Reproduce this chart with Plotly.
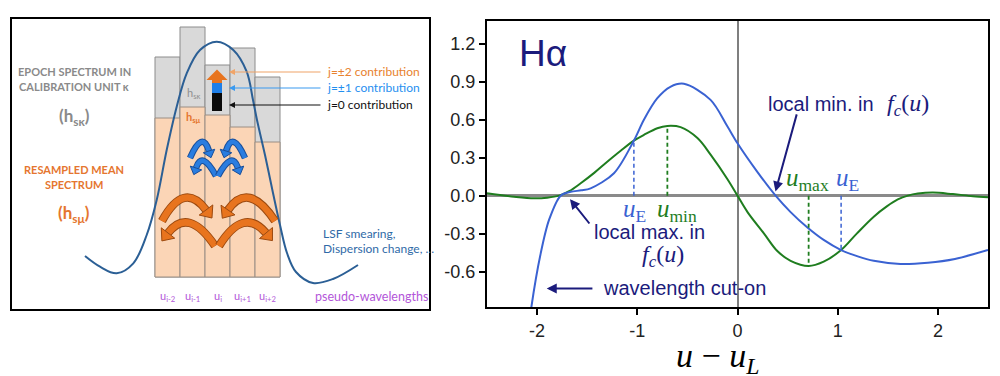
import math
import plotly.graph_objects as go

# ---------------- right panel data ----------------
u_green = [-2.5, -2.23, -2.03, -1.90, -1.78, -1.68, -1.565, -1.43, -1.30, -1.166, -1.034, -0.934,
           -0.80, -0.70, -0.568, -0.40, -0.265, -0.10, 0.0, 0.10, 0.265, 0.40, 0.53, 0.71, 0.86,
           1.034, 1.19, 1.36, 1.49, 1.60, 1.70, 1.80, 1.95, 2.15, 2.35, 2.5]
f_green = [0.019, -0.008, -0.021, -0.016, 0.0, 0.035, 0.098, 0.18, 0.268, 0.355, 0.435, 0.48,
           0.533, 0.551, 0.541, 0.455, 0.32, 0.13, 0.0, -0.13, -0.30, -0.44, -0.515, -0.556, -0.522,
           -0.43, -0.30, -0.166, -0.085, -0.03, 0.0, 0.016, 0.024, 0.012, -0.004, -0.012]
u_blue = [-2.075, -2.057, -1.964, -1.88, -1.765, -1.665, -1.56, -1.466, -1.233, -1.034, -0.934,
          -0.80, -0.67, -0.535, -0.269, -0.10, 0.0, 0.196, 0.38, 0.53, 0.695, 0.86, 1.034, 1.2,
          1.36, 1.625, 1.9, 2.17, 2.5]
f_blue = [-1.0, -0.88, -0.456, -0.19, 0.0, 0.03, 0.042, 0.058, 0.177, 0.435, 0.60,
          0.77, 0.86, 0.884, 0.757, 0.546, 0.414, 0.19, 0.0, -0.13, -0.25, -0.35, -0.43, -0.48,
          -0.515, -0.54, -0.53, -0.50, -0.43]
uE_x = [-1.034, 1.034]
uE_y = [0.435, -0.43]
uext_x = [-0.70, 0.71]
uext_y = [0.551, -0.556]
x_ticks = [-2, -1, 0, 1, 2]
y_ticks = [-0.6, -0.3, 0.0, 0.3, 0.6, 0.9, 1.2]

# ---------------- left panel data (schematic) ----------------
bins = ["u<sub>i-2</sub>", "u<sub>i-1</sub>", "u<sub>i</sub>", "u<sub>i+1</sub>", "u<sub>i+2</sub>"]
epoch_h = [220, 250, 212, 229, 200]
resampled_h = [159, 170, 162, 150, 135]
lsf_x = [85, 100, 116.7, 133.3, 146.7, 156.7, 166.7, 176.7, 186.7, 200, 216.7, 233.3, 246.7,
         253, 257, 265, 273, 280, 287, 296, 313, 333, 358]
lsf_y = [256, 266.7, 273.3, 263.3, 235, 200, 150, 106.7, 73.3, 50, 41.7, 50, 71.7,
         100, 120, 155, 193, 225, 253, 272, 283, 279, 265]

W, H = 1000, 376
OX, OY = 8, 8   # page body margin offset


def fx(px):
    return (px - OX) / W


def fy(py):
    return 1 - (py - OY) / H


BLUE = "#3a62d2"
GREEN = "#1f7d1f"
NAVY = "#1b1b7c"
SERIF = "Liberation Serif, Times New Roman, serif"
SANS = "Liberation Sans, Arial, sans-serif"
CAL = "Lato, Open Sans, sans-serif"

fig = go.Figure()

# ---- right panel traces ----
fig.add_trace(go.Scatter(x=u_green, y=f_green, mode="lines", xaxis="x", yaxis="y",
                         line=dict(color=GREEN, width=2, shape="spline", smoothing=1.0),
                         hoverinfo="skip", showlegend=False))
fig.add_trace(go.Scatter(x=u_blue, y=f_blue, mode="lines", xaxis="x", yaxis="y",
                         line=dict(color=BLUE, width=2, shape="spline", smoothing=0.9),
                         hoverinfo="skip", showlegend=False))
for xv, yv in zip(uE_x, uE_y):
    fig.add_trace(go.Scatter(x=[xv, xv], y=[0, yv], mode="lines", xaxis="x", yaxis="y",
                             line=dict(color=BLUE, width=1.5, dash="4px,3px"),
                             hoverinfo="skip", showlegend=False))
for xv, yv in zip(uext_x, uext_y):
    fig.add_trace(go.Scatter(x=[xv, xv], y=[0, yv], mode="lines", xaxis="x", yaxis="y",
                             line=dict(color=GREEN, width=1.8, dash="4px,3px"),
                             hoverinfo="skip", showlegend=False))

# ---- left panel traces ----
fig.add_trace(go.Bar(x=bins, y=epoch_h, width=1, xaxis="x2", yaxis="y2",
                     marker=dict(color="#d9d9d9", line=dict(color="#8c8c8c", width=1)),
                     hoverinfo="skip", showlegend=False))
fig.add_trace(go.Bar(x=bins, y=resampled_h, width=1, xaxis="x2", yaxis="y2",
                     marker=dict(color="#fbd5b6", line=dict(color="#9a8e84", width=1)),
                     hoverinfo="skip", showlegend=False))
fig.add_trace(go.Scatter(x=lsf_x, y=lsf_y, mode="lines", xaxis="x3", yaxis="y3",
                         line=dict(color="#2b5f95", width=2, shape="spline", smoothing=1.0),
                         hoverinfo="skip", showlegend=False))

# ---------------- layout ----------------
box = dict(x0=11, x1=430, y0=18, y1=310)   # left panel frame (screen px)
rp = dict(x0=487, x1=988, y0=21, y1=307)   # right plot area (screen px)

fig.update_layout(
    width=W, height=H, margin=dict(l=0, r=0, t=0, b=0),
    paper_bgcolor="white", plot_bgcolor="rgba(0,0,0,0)",
    barmode="overlay", showlegend=False,
    xaxis=dict(domain=[fx(rp["x0"]), fx(rp["x1"])], range=[-2.5, 2.5],
               tickvals=x_ticks, ticktext=[str(v) for v in x_ticks],
               ticks="outside", ticklen=6, tickwidth=1.5, tickcolor="black",
               showline=True, linecolor="black", linewidth=2, mirror=True,
               showgrid=False, zeroline=True, zerolinecolor="#7f7f7f", zerolinewidth=1.5,
               tickfont=dict(family=SANS, size=18, color="#222")),
    yaxis=dict(domain=[fy(rp["y1"]), fy(rp["y0"])], range=[-0.88, 1.38],
               tickvals=y_ticks, ticktext=["%.1f" % v for v in y_ticks],
               ticks="outside", ticklen=6, tickwidth=1.5, tickcolor="black",
               showline=True, linecolor="black", linewidth=2, mirror=True,
               showgrid=False, zeroline=True, zerolinecolor="#8a8a8a", zerolinewidth=2.5,
               tickfont=dict(family=SANS, size=18, color="#222")),
    xaxis2=dict(domain=[fx(box["x0"]), fx(box["x1"])], type="category",
                categoryorder="array", categoryarray=bins,
                range=[(11 - 167.5) / 25, (430 - 167.5) / 25], visible=False),
    yaxis2=dict(domain=[fy(box["y1"]), fy(box["y0"])], range=[-33, 259], visible=False),
    xaxis3=dict(domain=[fx(box["x0"]), fx(box["x1"])], range=[11, 430], visible=False,
                overlaying="x2"),
    yaxis3=dict(domain=[fy(box["y1"]), fy(box["y0"])], range=[310, 18], visible=False,
                overlaying="y2"),
)

shapes = []
shapes.append(dict(type="rect", xref="paper", yref="paper",
                   x0=fx(box["x0"]), x1=fx(box["x1"]), y0=fy(box["y1"]), y1=fy(box["y0"]),
                   line=dict(color="black", width=2), fillcolor="rgba(0,0,0,0)", layer="above"))


def rect(x0, y0, x1, y1, color):
    return dict(type="rect", xref="x3", yref="y3", x0=x0, x1=x1, y0=y0, y1=y1,
                fillcolor=color, line=dict(width=0), layer="above")


shapes.append(rect(212, 93, 222, 111, "#0a0a0a"))
shapes.append(rect(212, 83, 222, 93, "#1e7fe8"))
shapes.append(rect(212, 79.5, 222, 83, "#e8741e"))
shapes.append(dict(type="path", xref="x3", yref="y3", path="M 206.5,80 L 217,69.5 L 227.5,80 Z",
                   fillcolor="#e8741e", line=dict(width=0), layer="above"))


def curved_arrow(p0, peak, p2, color, edge, w, hl, hw):
    cx = 2 * peak[0] - (p0[0] + p2[0]) / 2
    cy = 2 * peak[1] - (p0[1] + p2[1]) / 2
    dx, dy = p2[0] - cx, p2[1] - cy
    n = math.hypot(dx, dy)
    dx, dy = dx / n, dy / n
    px_, py_ = -dy, dx
    tip = (p2[0] + dx * hl, p2[1] + dy * hl)
    b1 = (p2[0] + px_ * hw / 2, p2[1] + py_ * hw / 2)
    b2 = (p2[0] - px_ * hw / 2, p2[1] - py_ * hw / 2)
    path = "M %.2f,%.2f Q %.2f,%.2f %.2f,%.2f" % (p0[0], p0[1], cx, cy, p2[0], p2[1])
    return [
        dict(type="path", xref="x3", yref="y3", path=path, line=dict(color=edge, width=w + 2),
             layer="above"),
        dict(type="path", xref="x3", yref="y3", path=path, line=dict(color=color, width=w),
             layer="above"),
        dict(type="path", xref="x3", yref="y3",
             path="M %.2f,%.2f L %.2f,%.2f L %.2f,%.2f Z" % (b1[0], b1[1], tip[0], tip[1], b2[0], b2[1]),
             fillcolor=color, line=dict(color=edge, width=1), layer="above"),
    ]


BA, BE = "#2a7de0", "#1a4f9a"
OA, OE = "#e8741e", "#9c4a10"
for p0, pk, p2 in [((190, 158), (201, 142), (209, 151)),
                   ((245, 158), (234, 142), (226, 151)),
                   ((216, 176), (204, 161), (196, 168)),
                   ((218, 176), (230, 161), (238, 168))]:
    shapes += curved_arrow(p0, pk, p2, BA, BE, 4.5, 7, 12)
for p0, pk, p2 in [((162, 221), (184, 198), (206, 210)),
                   ((275, 221), (250, 198), (228, 210)),
                   ((215, 246), (190, 223), (168, 233)),
                   ((219, 246), (243, 223), (266, 233))]:
    shapes += curved_arrow(p0, pk, p2, OA, OE, 6.5, 10, 17)

fig.update_layout(shapes=shapes)

ann = []


def t3(x, y, text, size, color, family=CAL, xanchor="center"):
    ann.append(dict(xref="x3", yref="y3", x=x, y=y, text=text, showarrow=False,
                    xanchor=xanchor, yanchor="middle",
                    font=dict(family=family, size=size, color=color)))


GRAY = "#8a8a8a"
ORG = "#e5762f"
t3(74, 72, "<b>EPOCH SPECTRUM IN</b>", 11, GRAY)
t3(74, 87, "<b>CALIBRATION UNIT κ</b>", 11, GRAY)
t3(74, 117, "<b>(h<sub>sκ</sub>)</b>", 17, GRAY)
t3(74, 170, "<b>RESAMPLED MEAN</b>", 11, ORG)
t3(74, 185, "<b>SPECTRUM</b>", 11, ORG)
t3(74, 214, "<b>(h<sub>sμ</sub>)</b>", 17, ORG)
t3(193, 94, "h<sub>sκ</sub>", 11, "#8f8f8f")
t3(193, 118, "<b>h<sub>sμ</sub></b>", 11, ORG)
t3(325, 72, "j=±2 contribution", 12, "#e8822e", xanchor="left")
t3(325, 88, "j=±1 contribution", 12, "#1f8ff0", xanchor="left")
t3(325, 105, "j=0 contribution", 12, "#111111", xanchor="left")
t3(321, 234, "LSF smearing,", 12, "#2f6aa7", xanchor="left")
t3(321, 249, "Dispersion change, ...", 12, "#2f6aa7", xanchor="left")
t3(313, 296, "pseudo-wavelengths", 12.5, "#b356d9", xanchor="left")
for b in bins:
    ann.append(dict(xref="x2", yref="y2", x=b, y=-19, text=b, showarrow=False,
                    xanchor="center", yanchor="middle",
                    font=dict(family=CAL, size=11, color="#b356d9")))

for yv, col in [(72, "#f0a468"), (88, "#3a9af0"), (105, "#111111")]:
    ann.append(dict(xref="x3", yref="y3", axref="x3", ayref="y3", x=229, y=yv, ax=322, ay=yv,
                    text="", showarrow=True, arrowhead=2, arrowsize=1, arrowwidth=1.2,
                    arrowcolor=col))


def tr(x, y, text, size, color, family=SANS, xanchor="center"):
    ann.append(dict(xref="x", yref="y", x=x, y=y, text=text, showarrow=False,
                    xanchor=xanchor, yanchor="middle",
                    font=dict(family=family, size=size, color=color)))


tr(-2.196, 1.127, "Hα", 37, NAVY, xanchor="left")
tr(0.28, 0.725, "local min. in", 20, NAVY, xanchor="left")
tr(1.70, 0.717, "<i>f</i><sub><i>c</i></sub>(<i>u</i>)", 24, NAVY, family=SERIF)
tr(-1.449, -0.285, "local max. in", 20, NAVY, xanchor="left")
tr(-0.743, -0.477, "<i>f</i><sub><i>c</i></sub>(<i>u</i>)", 24, NAVY, family=SERIF)
tr(-1.366, -0.733, "wavelength cut-on", 20, NAVY, xanchor="left")
tr(-1.03, -0.12, "<i>u</i><sub>E</sub>", 25, BLUE, family=SERIF)
tr(-0.60, -0.12, "<i>u</i><sub>min</sub>", 25, GREEN, family=SERIF)
tr(0.70, 0.125, "<i>u</i><sub>max</sub>", 25, GREEN, family=SERIF)
tr(1.10, 0.125, "<i>u</i><sub>E</sub>", 25, BLUE, family=SERIF)

for (tx, ty), (hx, hy) in [((0.595, 0.654), (0.379, 0.032)),
                           ((-1.466, -0.232), (-1.672, -0.028)),
                           ((-1.433, -0.733), (-1.904, -0.733))]:
    ann.append(dict(xref="x", yref="y", axref="x", ayref="y", x=hx, y=hy, ax=tx, ay=ty,
                    text="", showarrow=True, arrowhead=2, arrowsize=1, arrowwidth=2,
                    arrowcolor=NAVY))

ann.append(dict(xref="paper", yref="paper", x=fx(717), y=fy(358),
                text="<i>u</i> − <i>u</i><sub><i>L</i></sub>", showarrow=False,
                xanchor="center", yanchor="middle",
                font=dict(family=SERIF, size=34, color="black")))

fig.update_layout(annotations=ann)
fig.write_html("out.html")
